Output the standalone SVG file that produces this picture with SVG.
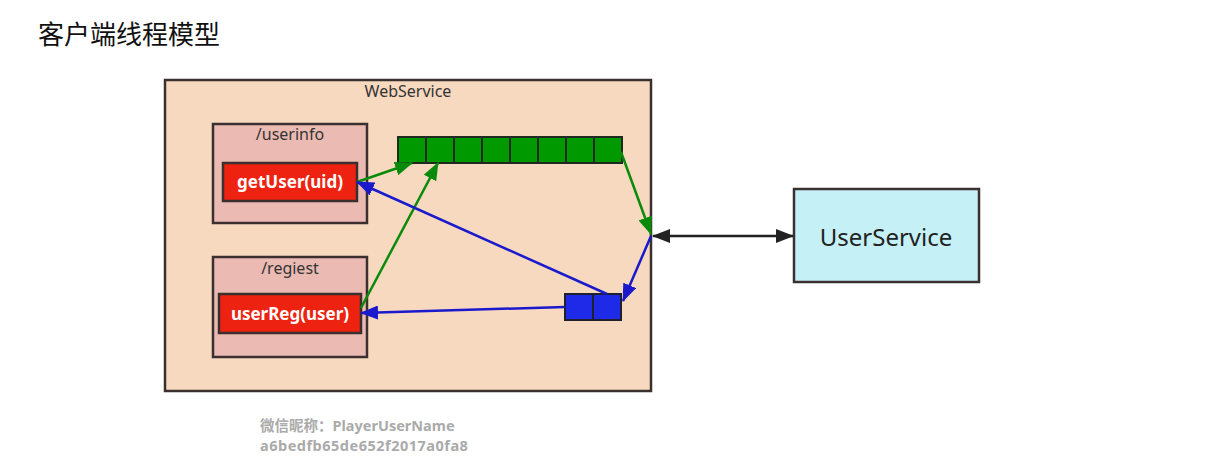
<svg xmlns="http://www.w3.org/2000/svg" width="1210" height="464" viewBox="0 0 1210 464">
<defs>
<marker id="ag" markerUnits="userSpaceOnUse" markerWidth="18" markerHeight="14" refX="17" refY="7" orient="auto"><path d="M0,0 L18,7 L0,14 z" fill="#0a8a0a"/></marker>
<marker id="ab" markerUnits="userSpaceOnUse" markerWidth="18" markerHeight="14" refX="17" refY="7" orient="auto"><path d="M0,0 L18,7 L0,14 z" fill="#1a1acc"/></marker>
<marker id="ak" markerUnits="userSpaceOnUse" markerWidth="18" markerHeight="14" refX="17" refY="7" orient="auto"><path d="M0,0 L18,7 L0,14 z" fill="#222"/></marker>
<marker id="aks" markerUnits="userSpaceOnUse" markerWidth="18" markerHeight="14" refX="1" refY="7" orient="auto"><path d="M18,0 L0,7 L18,14 z" fill="#222"/></marker>
</defs>
<style>
text{font-family:"Noto Sans","Open Sans","Noto Sans CJK SC",sans-serif}
.box{stroke:#3a3030;stroke-width:2.5}
.lbl{fill:#333;font-size:16px;text-anchor:middle}
.fn{fill:#fff;font-size:17px;font-weight:bold;text-anchor:middle}
.g{fill:#009900;stroke:#1e2a1e;stroke-width:2}
.b{fill:#1e2ae8;stroke:#20202a;stroke-width:2}
.wm{fill:#aaaaaa;font-size:14.5px;font-weight:bold}
</style>
<rect width="1210" height="464" fill="#fff"/>
<text x="38" y="44" font-size="26" fill="#111">客户端线程模型</text>
<g id="webservice">
<rect class="box" x="165" y="80" width="486" height="311" fill="#f7d9bf"/>
<text class="lbl" x="408" y="97">WebService</text>
</g>
<g id="userinfo">
<rect class="box" x="213" y="124" width="154" height="99" fill="#ebbab2"/>
<text class="lbl" x="290" y="140">/userinfo</text>
</g>
<g id="getUser">
<rect class="box" x="223" y="163" width="134" height="38" fill="#ee2211"/>
<text class="fn" x="290" y="188">getUser(uid)</text>
</g>
<g id="regiest">
<rect class="box" x="213" y="257" width="154" height="100" fill="#ebbab2"/>
<text class="lbl" x="290" y="274">/regiest</text>
</g>
<g id="userReg">
<rect class="box" x="219" y="294" width="142" height="39" fill="#ee2211"/>
<text class="fn" x="290" y="320">userReg(user)</text>
</g>
<g id="greenQueue">
<rect class="g" x="398" y="137" width="28" height="26"/>
<rect class="g" x="426" y="137" width="28" height="26"/>
<rect class="g" x="454" y="137" width="28" height="26"/>
<rect class="g" x="482" y="137" width="28" height="26"/>
<rect class="g" x="510" y="137" width="28" height="26"/>
<rect class="g" x="538" y="137" width="28" height="26"/>
<rect class="g" x="566" y="137" width="28" height="26"/>
<rect class="g" x="594" y="137" width="28" height="26"/>
</g>
<g id="blueQueue">
<rect class="b" x="565" y="294" width="28" height="26"/>
<rect class="b" x="593" y="294" width="28" height="26"/>
</g>
<g id="userService">
<rect class="box" x="794" y="189" width="185" height="93" fill="#c5f1f6"/>
<text x="886" y="246" font-size="24" fill="#222" text-anchor="middle">UserService</text>
</g>
<g id="connectors" fill="none" stroke-width="2.5">
<line x1="357" y1="182" x2="412" y2="163" stroke="#0a8a0a" marker-end="url(#ag)"/>
<line x1="361" y1="308" x2="438" y2="163" stroke="#0a8a0a" marker-end="url(#ag)"/>
<line x1="621" y1="152" x2="651" y2="234" stroke="#0a8a0a" marker-end="url(#ag)"/>
<line x1="651" y1="236" x2="623" y2="301" stroke="#1a1acc" marker-end="url(#ab)"/>
<line x1="607" y1="294" x2="357" y2="182" stroke="#1a1acc" marker-end="url(#ab)"/>
<line x1="565" y1="307" x2="361" y2="313" stroke="#1a1acc" marker-end="url(#ab)"/>
<line x1="653" y1="236" x2="793" y2="236" stroke="#222" marker-start="url(#aks)" marker-end="url(#ak)"/>
</g>
<text class="wm" x="260" y="431">微信昵称：PlayerUserName</text>
<text class="wm" x="260" y="451" letter-spacing="0.5">a6bedfb65de652f2017a0fa8</text>
</svg>
